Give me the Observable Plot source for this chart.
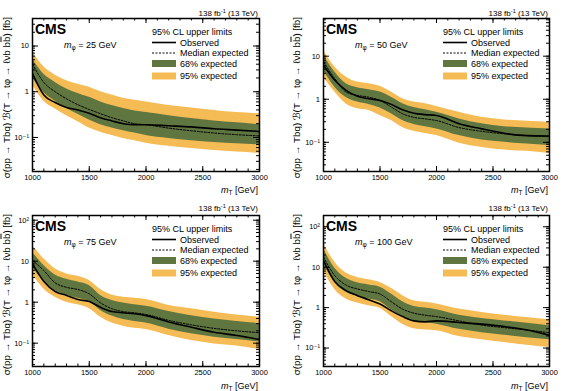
<!DOCTYPE html>
<html><head><meta charset="utf-8">
<script src="https://cdn.jsdelivr.net/npm/d3@7"></script>
<script src="https://cdn.jsdelivr.net/npm/@observablehq/plot@0.6"></script>
<style>
body{margin:0;background:#fff}
#grid{display:grid;grid-template-columns:290px 290px;grid-template-rows:195px 196px;width:580px;height:391px}
#grid svg{display:block}
</style></head><body><div id="grid"></div>
<script>
// ---- data ----
const mT = [1000,1100,1200,1300,1400,1500,1600,1700,1800,1900,2000,2200,2400,2600,2800,3000];
const xMajorTicks = [1000,1500,2000,2500,3000];
const mphiLabels = ["25","50","75","100"];

// m_phi = 25 GeV
const hi95_25 = [7.5,3.5,2.3,1.75,1.45,1.25,1.0,0.85,0.72,0.65,0.6,0.5,0.44,0.39,0.35,0.33];
const hi68_25 = [5.2,2.4,1.6,1.15,0.92,0.76,0.6,0.5,0.43,0.38,0.35,0.3,0.26,0.23,0.21,0.19];
const exp_25  = [4.0,1.6,1.0,0.7,0.52,0.41,0.33,0.27,0.23,0.2,0.19,0.16,0.14,0.125,0.115,0.108];
const obs_25  = [2.5,0.85,0.58,0.45,0.4,0.34,0.27,0.23,0.2,0.19,0.19,0.18,0.17,0.155,0.145,0.135];
const lo68_25 = [2.0,0.95,0.62,0.43,0.32,0.24,0.19,0.16,0.14,0.125,0.11,0.095,0.085,0.078,0.073,0.069];
const lo95_25 = [1.4,0.62,0.42,0.3,0.22,0.16,0.13,0.11,0.095,0.085,0.075,0.064,0.057,0.052,0.048,0.045];

// m_phi = 50 GeV
const hi95_50 = [14,5.6,3.3,2.5,2.3,2.0,1.47,1.03,0.86,0.79,0.68,0.5,0.38,0.33,0.31,0.29];
const hi68_50 = [10.5,4.3,2.3,1.86,1.67,1.47,1.12,0.79,0.64,0.57,0.5,0.35,0.27,0.23,0.216,0.205];
const exp_50  = [7.4,3.0,1.47,1.23,1.12,0.94,0.66,0.46,0.38,0.35,0.32,0.22,0.18,0.157,0.143,0.135];
const obs_50  = [6.2,2.75,1.6,1.17,1.03,0.94,0.76,0.57,0.475,0.44,0.42,0.27,0.205,0.162,0.143,0.14];
const lo68_50 = [4.7,1.9,1.1,0.86,0.76,0.63,0.46,0.32,0.26,0.23,0.205,0.143,0.113,0.1,0.091,0.084];
const lo95_50 = [3.3,1.47,0.78,0.6,0.55,0.42,0.32,0.22,0.18,0.16,0.143,0.095,0.076,0.066,0.062,0.055];

// m_phi = 75 GeV
const hi95_75 = [24,11.4,6.5,4.9,4.3,3.4,2.04,1.5,1.32,1.25,1.16,0.83,0.69,0.57,0.49,0.43];
const hi68_75 = [16.6,7.8,4.6,3.6,3.1,2.55,1.46,1.1,0.96,0.86,0.8,0.59,0.47,0.39,0.34,0.3];
const exp_75  = [10.4,5.9,2.96,2.3,2.04,1.6,0.96,0.69,0.59,0.55,0.5,0.36,0.28,0.23,0.2,0.18];
const obs_75  = [8.6,3.2,1.82,1.46,1.16,1.04,0.75,0.59,0.55,0.52,0.47,0.33,0.245,0.185,0.154,0.123];
const lo68_75 = [7.1,3.2,1.93,1.46,1.25,1.04,0.63,0.46,0.38,0.34,0.31,0.22,0.17,0.14,0.123,0.106];
const lo95_75 = [4.9,2.1,1.32,1.0,0.86,0.69,0.43,0.31,0.26,0.23,0.215,0.154,0.116,0.096,0.085,0.07];

// m_phi = 100 GeV
const hi95_100 = [38,13.3,7.2,5.6,4.9,4.2,3.0,1.98,1.48,1.35,1.23,0.92,0.76,0.65,0.57,0.5];
const hi68_100 = [28.5,9.4,5.3,4.1,3.64,3.2,2.17,1.4,1.07,0.98,0.89,0.65,0.54,0.47,0.41,0.355];
const exp_100  = [17.7,6.2,3.6,2.9,2.5,2.17,1.4,0.92,0.73,0.65,0.6,0.47,0.37,0.32,0.28,0.24];
const obs_100  = [14.6,4.4,2.63,1.98,1.57,1.23,0.84,0.6,0.47,0.445,0.47,0.43,0.39,0.34,0.28,0.208];
const lo68_100 = [12.1,4.1,2.4,1.9,1.63,1.4,0.89,0.6,0.47,0.43,0.39,0.29,0.24,0.208,0.18,0.16];
const lo95_100 = [8.3,2.8,1.63,1.3,1.11,0.96,0.6,0.39,0.3,0.28,0.27,0.193,0.16,0.137,0.117,0.103];

const yDomains = [[0.018,40],[0.021,75],[0.027,130],[0.035,190]];
const yTickLabels = [[0.1,1,10],[0.1,1,10],[0.1,1,10,100],[0.1,1,10,100]];

// ---- drawing ----
const YEL = "#F5BB54", GRN = "#607641";
const FONT = "'Liberation Sans', Arial, Helvetica, 'DejaVu Sans', sans-serif";
const sets = [
  [hi95_25,hi68_25,exp_25,obs_25,lo68_25,lo95_25],
  [hi95_50,hi68_50,exp_50,obs_50,lo68_50,lo95_50],
  [hi95_75,hi68_75,exp_75,obs_75,lo68_75,lo95_75],
  [hi95_100,hi68_100,exp_100,obs_100,lo68_100,lo95_100]
];
function fmtPow(v){ const e = Math.round(Math.log10(v)); if (e===0) return "1"; if (e===1) return "10"; return "10" + (e<0? "⁻"+"¹²³"[-e-1] : "⁰¹²³"[e]); }

const xMinor = d3.range(1000, 3001, 100);
function yMinorFor(dom){
  const out=[]; for(let e=-3;e<=3;e++) for(let k=1;k<10;k++){const v=k*Math.pow(10,e); if(v>=dom[0]&&v<=dom[1]) out.push(v);} return out;
}

const grid = document.getElementById("grid");
sets.forEach((s, i) => {
  const row = Math.floor(i/2), col = i%2;
  const W = 290, H = row===0 ? 195 : 196;
  const mt = row===0 ? 18 : 20, mb = row===0 ? 24 : 25;
  const ml = col===0 ? 32 : 33, mr = 31;
  const pw = W - ml - mr, ph = H - mt - mb;
  const data = mT.map((x,j)=>({x, hi95:s[0][j], hi68:s[1][j], exp:s[2][j], obs:s[3][j], lo68:s[4][j], lo95:s[5][j]}));
  const dom = yDomains[i];
  const yMin = yMinorFor(dom);
  const yMaj = yMin.filter(v => Math.abs(Math.log10(v) - Math.round(Math.log10(v))) < 1e-9);
  const curve = "monotone-x";
  const chart = Plot.plot({
    width: W, height: H, marginTop: mt, marginBottom: mb, marginLeft: ml, marginRight: mr,
    style: {fontFamily: FONT, fontSize: "7.5px", background: "white", color: "black"},
    x: {domain: [1000,3000]},
    y: {type: "log", domain: dom},
    marks: [
      Plot.areaY(data, {x:"x", y1:"lo95", y2:"hi95", fill: YEL, curve, clip: true}),
      Plot.areaY(data, {x:"x", y1:"lo68", y2:"hi68", fill: GRN, curve, clip: true}),
      Plot.lineY(data, {x:"x", y:"exp", stroke:"black", strokeWidth:1, strokeDasharray:"2,1.5", curve, clip: true}),
      Plot.lineY(data, {x:"x", y:"obs", stroke:"black", strokeWidth:1.6, curve, clip: true}),
      Plot.tickX(xMinor, {x: d=>d, insetTop: ph-2.5, stroke:"black"}),
      Plot.tickX(xMajorTicks, {x: d=>d, insetTop: ph-5, stroke:"black"}),
      Plot.tickX(xMinor, {x: d=>d, insetBottom: ph-2.5, stroke:"black"}),
      Plot.tickX(xMajorTicks, {x: d=>d, insetBottom: ph-5, stroke:"black"}),
      Plot.tickY(yMin, {y: d=>d, insetRight: pw-3, stroke:"black"}),
      Plot.tickY(yMaj, {y: d=>d, insetRight: pw-6, stroke:"black"}),
      Plot.tickY(yMin, {y: d=>d, insetLeft: pw-3, stroke:"black"}),
      Plot.tickY(yMaj, {y: d=>d, insetLeft: pw-6, stroke:"black"}),
      Plot.frame({stroke:"black", strokeWidth:1.5}),
      Plot.axisX({ticks: xMajorTicks, tickSize: 0, tickPadding: 3, tickFormat: d=>String(d), label: null, fontSize: 7.5}),
      Plot.axisY({ticks: yTickLabels[i], tickSize: 0, tickPadding: 3.5, tickFormat: fmtPow, label: null, fontSize: 7.5})
    ]
  });
  const svg = d3.select(chart);
  const g = svg.append("g").attr("font-family", FONT).attr("fill", "black").attr("text-anchor", "start");
  const rx = W - mr - 1;
  // header
  g.append("text").attr("x", rx).attr("y", 15.5).attr("text-anchor","end").attr("font-size", 8)
    .html('138 fb<tspan dy="-3" font-size="5.5">-1</tspan><tspan dy="3"> (13 TeV)</tspan>');
  // CMS
  g.append("text").attr("x", ml+3).attr("y", mt+16).attr("font-size", 14).attr("font-weight","bold").text("CMS");
  // m_phi label
  g.append("text").attr("x", ml+32).attr("y", mt+29.5).attr("font-size", 9)
    .html('<tspan font-style="italic">m</tspan><tspan dy="2" font-size="6.5">φ</tspan><tspan dy="-2"> = ' + mphiLabels[i] + ' GeV</tspan>');
  // legend
  const lx = ml + 120, tx = ml + 148;
  g.append("text").attr("x", lx).attr("y", mt+16.5).attr("font-size", 9).text("95% CL upper limits");
  g.append("line").attr("x1", lx).attr("x2", lx+24).attr("y1", mt+24.5).attr("y2", mt+24.5).attr("stroke","black").attr("stroke-width",1.6);
  g.append("text").attr("x", tx).attr("y", mt+27.5).attr("font-size", 9).text("Observed");
  g.append("line").attr("x1", lx).attr("x2", lx+24).attr("y1", mt+35).attr("y2", mt+35).attr("stroke","black").attr("stroke-width",1).attr("stroke-dasharray","2,1.5");
  g.append("text").attr("x", tx).attr("y", mt+38).attr("font-size", 9).text("Median expected");
  g.append("rect").attr("x", lx).attr("y", mt+42).attr("width", 24).attr("height", 7).attr("fill", GRN);
  g.append("text").attr("x", tx).attr("y", mt+48.5).attr("font-size", 9).text("68% expected");
  g.append("rect").attr("x", lx).attr("y", mt+54.5).attr("width", 24).attr("height", 7).attr("fill", YEL);
  g.append("text").attr("x", tx).attr("y", mt+61).attr("font-size", 9).text("95% expected");
  // x title
  g.append("text").attr("x", rx).attr("y", H - 2.5).attr("text-anchor","end").attr("font-size", 9)
    .html('<tspan font-style="italic">m</tspan><tspan dy="2" font-size="6.5">T</tspan><tspan dy="-2"> [GeV]</tspan>');
  // y title
  g.append("text").attr("transform", `translate(9.5,${mt-1}) rotate(-90)`).attr("text-anchor","end").attr("font-size", 9.8)
    .html('σ(pp → Tbq) ℬ(T → tφ → ℓνb b<tspan text-decoration="overline">b</tspan>) [fb]');
  grid.appendChild(chart);
});
</script></body></html>
